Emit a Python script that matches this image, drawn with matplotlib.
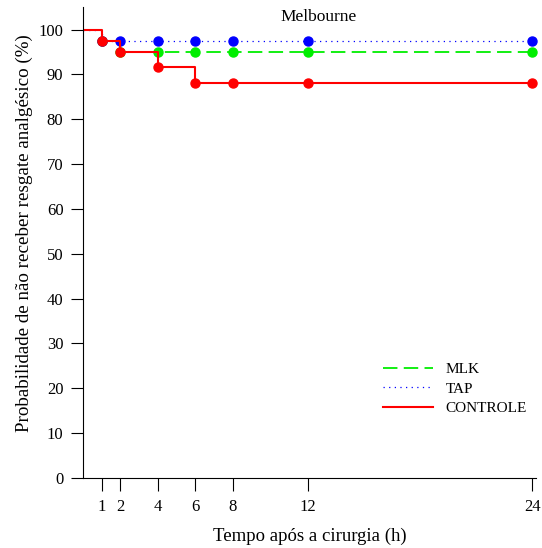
import matplotlib
matplotlib.use("Agg")
import matplotlib.pyplot as plt

times = [0, 1, 2, 4, 6, 8, 12, 24]
mlk = [100, 97.5, 95, 95, 95, 95, 95, 95]
tap = [100, 97.5, 97.5, 97.5, 97.5, 97.5, 97.5, 97.5]
controle = [100, 97.5, 95, 91.7, 88, 88, 88, 88]
xticks = [1, 2, 4, 6, 8, 12, 24]
yticks = list(range(0, 101, 10))

plt.rcParams['font.family'] = ['Liberation Serif', 'DejaVu Serif']

fig = plt.figure(figsize=(5.42, 5.48), dpi=100)
ax = fig.add_axes([0.153, 0.128, 0.836, 0.859])

series = [
    ("MLK", mlk, "#00ee00", (0, (8, 3.5)), 1.3),
    ("TAP", tap, "#0000ff", (0, (1, 3.5)), 0.9),
    ("CONTROLE", controle, "#ff0000", "-", 1.5),
]
handles = []
for name, vals, col, ls, lw in series:
    h, = ax.step(times, vals, where="post", color=col, linestyle=ls, linewidth=lw, label=name)
    ax.plot(times[1:], vals[1:], "o", color=col, markersize=6.5, linestyle="none", clip_on=False)
    handles.append(h)

ax.set_xlim(0, 24.2)
ax.set_ylim(0, 105)
ax.set_xticks(xticks)
ax.set_yticks(yticks)
ax.spines['top'].set_visible(False)
ax.spines['right'].set_visible(False)
ax.tick_params(axis='x', direction='out', length=9, pad=6, labelsize=12)
ax.tick_params(axis='y', direction='out', length=9, pad=5, labelsize=12)
ax.set_xlabel("Tempo após a cirurgia (h)", fontsize=13.5, labelpad=9)
ax.set_ylabel("Probabilidade de não receber resgate analgésico (%)", fontsize=13.7)
ax.yaxis.set_label_coords(-0.11, 0.52)
ax.text(0.52, 0.997, "Melbourne", transform=ax.transAxes, ha="center", va="top", fontsize=12.5)

leg = ax.legend(handles=handles, loc="center left", bbox_to_anchor=(0.662, 0.189),
                frameon=False, fontsize=11, handlelength=3.3, handletextpad=0.8,
                labelspacing=0.38, borderaxespad=0, borderpad=0)

fig.savefig("out.png", dpi=100)
